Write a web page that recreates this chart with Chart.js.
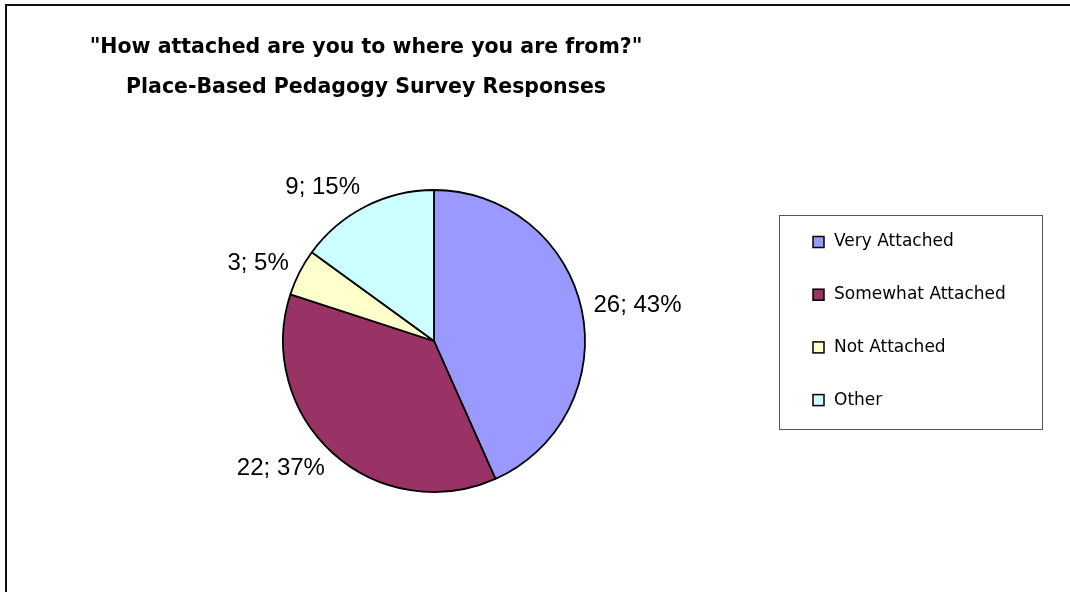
<!DOCTYPE html>
<html>
<head>
<meta charset="utf-8">
<script src="https://cdn.jsdelivr.net/npm/chart.js@4.4.0/dist/chart.umd.min.js"></script>
<style>
  html, body { margin: 0; padding: 0; background: #fff; overflow: hidden; }
  #wrap { position: relative; width: 1070px; height: 592px; }
  /* cadre du graphique : seuls les bords haut et gauche sont visibles */
  #cadre { position: absolute; left: 5px; top: 4px; width: 1200px; height: 700px;
           border-left: 2px solid #111; border-top: 2px solid #111; }
  canvas { position: absolute; left: 0; top: 0; }
</style>
</head>
<body>
<div id="wrap">
  <div id="cadre"></div>
  <canvas id="camembert" width="1070" height="592"></canvas>
</div>
<script>
// Données du sondage
const categories = ['Very Attached', 'Somewhat Attached', 'Not Attached', 'Other'];
const reponses = [26, 22, 3, 9];
const couleurs = ['#9999FF', '#993366', '#FFFFCC', '#CCFFFF'];
const titre = ['"How attached are you to where you are from?"', 'Place-Based Pedagogy Survey Responses'];

const total = reponses.reduce((t, v) => t + v, 0);

// Titre sur deux lignes, centré au-dessus du camembert
const titrePlugin = {
    id: 'titre',
    afterDraw(chart) {
        const ctx = chart.ctx;
        ctx.save();
        ctx.font = 'bold 20.5px "DejaVu Sans"';
        ctx.fillStyle = '#000';
        ctx.textAlign = 'center';
        ctx.textBaseline = 'middle';
        ctx.fillText(titre[0], 366, 48);
        ctx.fillText(titre[1], 366, 88);
        ctx.restore();
    }
};

// Étiquettes "valeur; pourcentage" à l'extérieur de chaque part
const etiquettesPlugin = {
    id: 'etiquettes',
    afterDatasetsDraw(chart) {
        const ctx = chart.ctx;
        const meta = chart.getDatasetMeta(0);
        ctx.save();
        ctx.font = '24px "Liberation Sans", Arial, sans-serif';
        ctx.fillStyle = '#000';
        ctx.textBaseline = 'middle';
        const h = 18;
        meta.data.forEach(function(arc, i) {
            const p = arc.getProps(['x', 'y', 'startAngle', 'endAngle', 'outerRadius'], true);
            const milieu = (p.startAngle + p.endAngle) / 2;
            const cos = Math.cos(milieu), sin = Math.sin(milieu);
            const ax = p.x + cos * (p.outerRadius + 12);
            const ay = p.y + sin * (p.outerRadius + 12);
            const v = reponses[i];
            const texte = v + '; ' + Math.round(v / total * 100) + '%';
            ctx.textAlign = cos >= 0 ? 'left' : 'right';
            ctx.fillText(texte, ax, ay + sin * h / 2);
        });
        ctx.restore();
    }
};

// Légende encadrée à droite
const legendePlugin = {
    id: 'legende',
    afterDraw(chart) {
        const ctx = chart.ctx;
        ctx.save();
        ctx.strokeStyle = '#555';
        ctx.lineWidth = 1;
        ctx.strokeRect(779.5, 215.5, 263, 214);
        ctx.font = '17px "DejaVu Sans"';
        ctx.textBaseline = 'middle';
        ctx.textAlign = 'left';
        categories.forEach(function(cat, i) {
            const yc = 242 + i * 52.7;
            ctx.fillStyle = couleurs[i];
            ctx.fillRect(813, yc - 5.5, 11, 11);
            ctx.strokeStyle = '#000';
            ctx.lineWidth = 1.5;
            ctx.strokeRect(813, yc - 5.5, 11, 11);
            ctx.fillStyle = '#000';
            ctx.fillText(cat, 834, yc);
        });
        ctx.restore();
    }
};

document.addEventListener('DOMContentLoaded', function() {
    const ctx = document.getElementById('camembert').getContext('2d');
    new Chart(ctx, {
        type: 'pie',
        data: {
            labels: categories,
            datasets: [{
                data: reponses,
                backgroundColor: couleurs,
                borderColor: '#000',
                borderWidth: 1.8,
                hoverOffset: 0,
                radius: 151
            }]
        },
        options: {
            responsive: false,
            devicePixelRatio: 1,
            animation: false,
            layout: { padding: { left: 200, right: 402, top: 180, bottom: 90 } },
            plugins: {
                legend: { display: false },
                tooltip: { enabled: false },
                title: { display: false }
            }
        },
        plugins: [titrePlugin, etiquettesPlugin, legendePlugin]
    });
});
</script>
</body>
</html>
